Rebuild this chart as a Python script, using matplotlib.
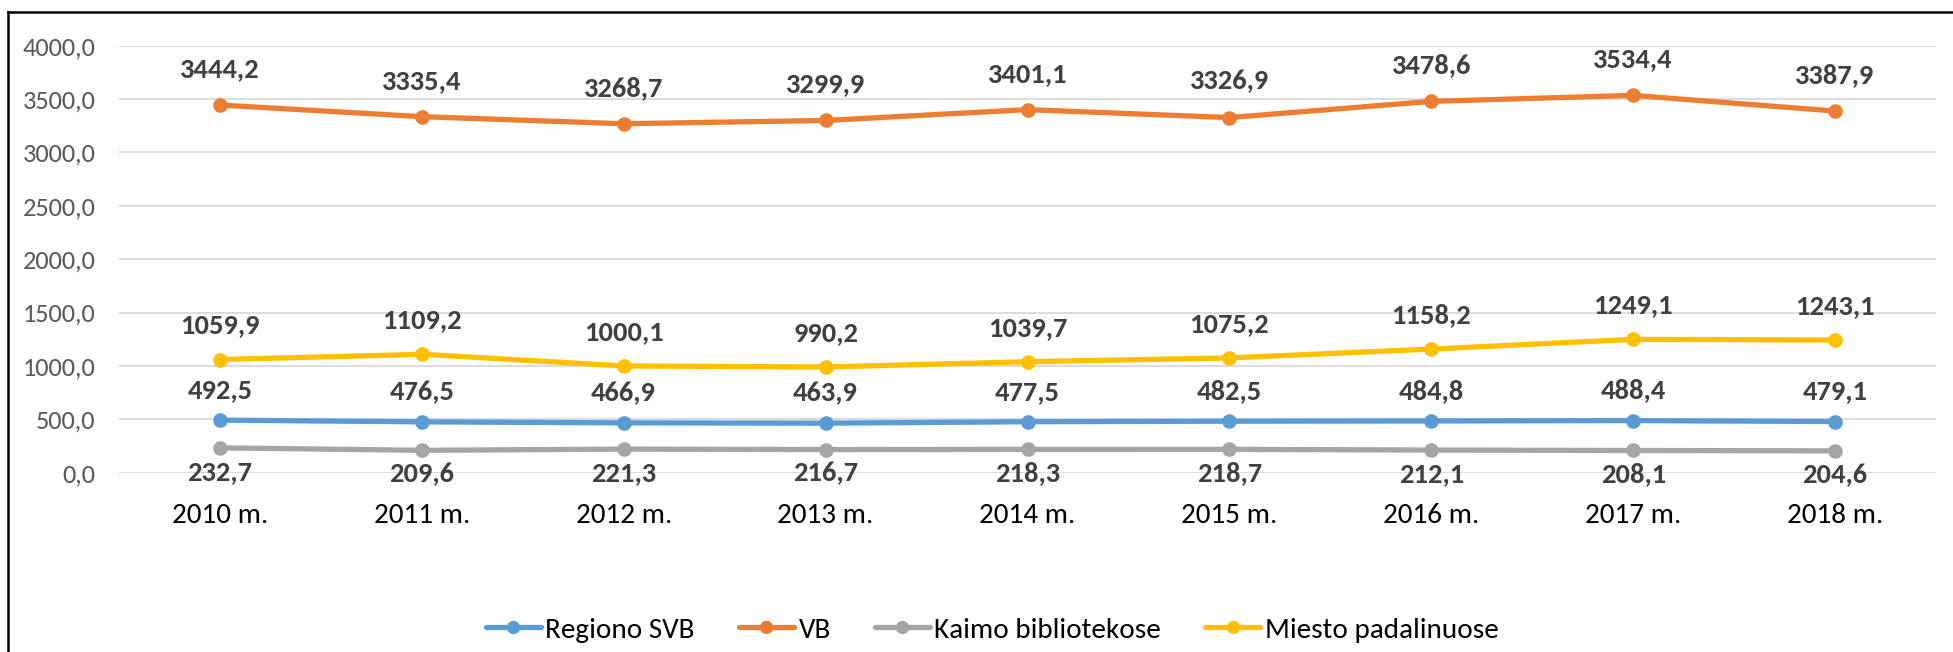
import matplotlib
matplotlib.use("Agg")
import matplotlib.pyplot as plt
from matplotlib.lines import Line2D

years = ["2010 m.", "2011 m.", "2012 m.", "2013 m.", "2014 m.", "2015 m.", "2016 m.", "2017 m.", "2018 m."]
regiono_svb = [492.5, 476.5, 466.9, 463.9, 477.5, 482.5, 484.8, 488.4, 479.1]
vb = [3444.2, 3335.4, 3268.7, 3299.9, 3401.1, 3326.9, 3478.6, 3534.4, 3387.9]
kaimo = [232.7, 209.6, 221.3, 216.7, 218.3, 218.7, 212.1, 208.1, 204.6]
miesto = [1059.9, 1109.2, 1000.1, 990.2, 1039.7, 1075.2, 1158.2, 1249.1, 1243.1]
series_names = ["Regiono SVB", "VB", "Kaimo bibliotekose", "Miesto padalinuose"]
yticks = [0, 500, 1000, 1500, 2000, 2500, 3000, 3500, 4000]

plt.rcParams['font.family'] = ['Carlito', 'Lato', 'DejaVu Sans']

W, H = 1953, 652
fig = plt.figure(figsize=(W / 100, H / 100), dpi=100)
ax = fig.add_axes([119 / W, 1 - 472.7 / H, (1936 - 119) / W, (472.7 - 45.7) / H])

x = list(range(len(years)))
colors = ["#5B9BD5", "#ED7D31", "#A5A5A5", "#FFC000"]
data = [regiono_svb, vb, kaimo, miesto]
offsets = [30, 36, -24, 34]

for vals, col, name, off in zip(data, colors, series_names, offsets):
    ax.plot(x, vals, color=col, lw=3.8, marker='o', ms=9.5, label=name,
            solid_capstyle='round', zorder=3)
    for xi, v in zip(x, vals):
        ax.annotate(f"{v:.1f}".replace('.', ','), (xi, v), xytext=(0, off),
                    textcoords='offset pixels', ha='center', va='center',
                    fontsize=20.5, fontweight='bold', color='#404040', zorder=4)

ax.set_xlim(-0.5, len(years) - 0.5)
ax.set_ylim(0, 4000)
ax.set_yticks(yticks)
ax.set_yticklabels([f"{t:.1f}".replace('.', ',') for t in yticks], fontsize=19, color='#595959')
ax.set_xticks(x)
ax.set_xticklabels(years, fontsize=21, color='black')
ax.tick_params(axis='y', length=0, pad=17)
ax.tick_params(axis='x', length=0, pad=21.5)
ax.grid(axis='y', color='#D9D9D9', lw=1.3, zorder=0)
ax.set_axisbelow(True)
for s in ax.spines.values():
    s.set_visible(False)

# chart frame (left and top edges visible)
fig.add_artist(Line2D([8 / W, 8 / W], [0, 1 - 12 / H], color='black', lw=1.8, transform=fig.transFigure))
fig.add_artist(Line2D([8 / W, 1], [1 - 12 / H, 1 - 12 / H], color='black', lw=1.8, transform=fig.transFigure))

fig.legend(loc='center', bbox_to_anchor=(992 / W, 1 - 630 / H), ncol=4, frameon=False,
           fontsize=21, handlelength=1.9, handletextpad=0.15, columnspacing=1.5,
           markerscale=0.9)

fig.savefig("out.png", dpi=100)
